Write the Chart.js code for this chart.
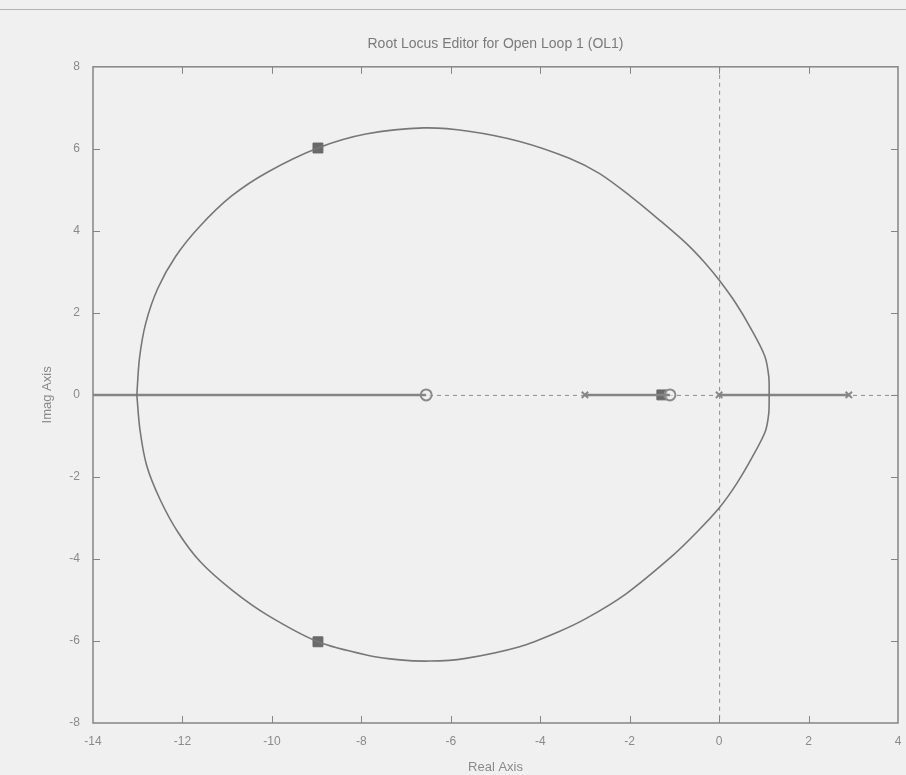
<!DOCTYPE html>
<html>
<head>
<meta charset="utf-8">
<title>Root Locus Editor for Open Loop 1 (OL1)</title>
<script src="https://cdn.jsdelivr.net/npm/chart.js@4.4.0/dist/chart.umd.min.js"></script>
<style>
  html, body { margin: 0; padding: 0; background: #f0f0f0; }
  canvas { display: block; }
</style>
</head>
<body>
<canvas id="locus" width="906" height="775"></canvas>
<script>
// complex branch of the locus, upper half (left crossing -> right crossing)
const upperRe = [-13.02, -12.96, -12.82, -12.55, -12.15, -11.62, -10.90, -10.10, -8.97, -7.90, -6.60, -5.60, -4.46, -3.35, -2.68, -2.00, -1.34, -0.74, -0.30, 0.00, 0.37, 0.72, 1.02, 1.11, 1.12];
const upperIm = [0, 0.90, 1.75, 2.60, 3.38, 4.10, 4.85, 5.43, 6.02, 6.36, 6.51, 6.43, 6.18, 5.77, 5.40, 4.86, 4.27, 3.70, 3.20, 2.80, 2.24, 1.60, 0.95, 0.45, 0];
// lower half
const lowerRe = [-13.02, -12.95, -12.80, -12.50, -12.10, -11.60, -10.87, -10.10, -8.97, -7.89, -7.14, -6.47, -5.70, -4.46, -3.60, -2.97, -2.08, -1.04, -0.50, 0.00, 0.40, 0.75, 1.03, 1.11, 1.12];
const lowerIm = [0, -0.85, -1.72, -2.55, -3.35, -4.07, -4.78, -5.37, -6.02, -6.34, -6.46, -6.49, -6.43, -6.14, -5.78, -5.45, -4.85, -3.92, -3.35, -2.76, -2.15, -1.50, -0.90, -0.45, 0];

// real-axis pieces of the locus [from, to]
const realSegments = [[-14, -6.55], [-3, -1.1], [0, 2.9]];

// open loop poles / zeros and the current closed loop poles
const polesRe = [-3, 0, 2.9];
const zerosRe = [-6.55, -1.1];
const clPolesRe = [-8.97, -8.97, -1.28];
const clPolesIm = [6.02, -6.02, 0];

const xTicks = [-14, -12, -10, -8, -6, -4, -2, 0, 2, 4];
const yTicks = [-8, -6, -4, -2, 0, 2, 4, 6, 8];

const gray = '#777';
const textGray = '#8a8a8a';
const font = 'Liberation Sans, Arial, sans-serif';

const pts = (re, im) => re.map((v, i) => ({ x: v, y: im[i] }));

const realData = [];
realSegments.forEach((s, i) => {
  if (i > 0) realData.push({ x: NaN, y: NaN });
  realData.push({ x: s[0], y: 0 }, { x: s[1], y: 0 });
});

// box, inward ticks and the dashed lines through the origin
const frame = {
  id: 'frame',
  beforeDatasetsDraw(chart) {
    const { ctx, chartArea: a, scales: { x, y } } = chart;
    const x0 = x.getPixelForValue(0), y0 = y.getPixelForValue(0);
    ctx.save();
    ctx.strokeStyle = '#8c8c8c';
    ctx.lineWidth = 1;
    ctx.setLineDash([4, 4]);
    ctx.beginPath();
    ctx.moveTo(x0 + 0.5, a.top); ctx.lineTo(x0 + 0.5, a.bottom);
    ctx.moveTo(a.left, y0 + 0.5); ctx.lineTo(a.right, y0 + 0.5);
    ctx.stroke();
    ctx.restore();
  },
  afterDraw(chart) {
    const { ctx, chartArea: a, scales: { x, y } } = chart;
    ctx.save();
    // thin rule at the top of the window
    ctx.strokeStyle = '#b4b4b4';
    ctx.lineWidth = 1;
    ctx.beginPath();
    ctx.moveTo(0, 9.5); ctx.lineTo(chart.width, 9.5);
    ctx.stroke();

    ctx.strokeStyle = '#858585';
    ctx.lineWidth = 1.5;
    ctx.strokeRect(a.left, a.top, a.right - a.left, a.bottom - a.top);
    ctx.lineWidth = 1;
    ctx.beginPath();
    const len = 7;
    xTicks.slice(1, -1).forEach(v => {
      const px = Math.round(x.getPixelForValue(v)) + 0.5;
      ctx.moveTo(px, a.bottom); ctx.lineTo(px, a.bottom - len);
      ctx.moveTo(px, a.top); ctx.lineTo(px, a.top + len);
    });
    yTicks.slice(1, -1).forEach(v => {
      const py = Math.round(y.getPixelForValue(v)) + 0.5;
      ctx.moveTo(a.left, py); ctx.lineTo(a.left + len, py);
      ctx.moveTo(a.right, py); ctx.lineTo(a.right - len, py);
    });
    ctx.stroke();
    ctx.restore();
  }
};

new Chart(document.getElementById('locus'), {
  type: 'scatter',
  data: {
    datasets: [
      {
        label: 'upper',
        data: pts(upperRe, upperIm),
        showLine: true,
        borderColor: gray,
        borderWidth: 1.6,
        tension: 0.3,
        pointRadius: 0
      },
      {
        label: 'lower',
        data: pts(lowerRe, lowerIm),
        showLine: true,
        borderColor: gray,
        borderWidth: 1.6,
        tension: 0.3,
        pointRadius: 0
      },
      {
        label: 'real axis',
        data: realData,
        showLine: true,
        spanGaps: false,
        borderColor: '#858585',
        borderWidth: 2.5,
        pointRadius: 0
      },
      {
        label: 'poles',
        data: polesRe.map(v => ({ x: v, y: 0 })),
        pointStyle: 'crossRot',
        pointRadius: 4.5,
        borderColor: '#8a8a8a',
        borderWidth: 2,
        backgroundColor: 'transparent'
      },
      {
        label: 'zeros',
        data: zerosRe.map(v => ({ x: v, y: 0 })),
        pointStyle: 'circle',
        pointRadius: 5.5,
        borderColor: '#8a8a8a',
        borderWidth: 2,
        backgroundColor: 'rgba(240,240,240,0.6)'
      },
      {
        label: 'closed loop',
        data: pts(clPolesRe, clPolesIm),
        pointStyle: 'rect',
        pointRadius: 7,
        borderColor: '#666',
        borderWidth: 1,
        backgroundColor: '#6a6a6a'
      }
    ]
  },
  options: {
    responsive: false,
    animation: false,
    layout: { padding: { left: 0, right: 6, top: 0, bottom: 0 } },
    plugins: {
      legend: { display: false },
      tooltip: { enabled: false },
      title: {
        display: true,
        fullSize: false,
        text: 'Root Locus Editor for Open Loop 1 (OL1)',
        color: '#7a7a7a',
        font: { family: font, size: 14, weight: 'normal' },
        padding: { top: 36, bottom: 14 }
      }
    },
    scales: {
      x: {
        type: 'linear',
        min: -14,
        max: 4,
        // fixed strip for labels + title, and no extra room for the end label
        afterFit(s) { s.height = 52; s.paddingLeft = 0; s.paddingRight = 0; },
        afterBuildTicks(s) { s.ticks = xTicks.map(v => ({ value: v })); },
        grid: { display: false, drawTicks: false },
        border: { display: false },
        ticks: { color: textGray, padding: 11, maxRotation: 0, font: { family: font, size: 12 } },
        title: {
          display: true,
          text: 'Real Axis',
          color: textGray,
          font: { family: font, size: 13 },
          padding: { top: 2, bottom: 0 }
        }
      },
      y: {
        type: 'linear',
        min: -8,
        max: 8,
        afterFit(s) { s.width = 93; },
        afterBuildTicks(s) { s.ticks = yTicks.map(v => ({ value: v })); },
        grid: { display: false, drawTicks: false },
        border: { display: false },
        ticks: { color: textGray, padding: 13, font: { family: font, size: 12 } },
        title: {
          display: true,
          text: 'Imag Axis',
          color: textGray,
          font: { family: font, size: 13 },
          padding: { top: 40, bottom: 0 }
        }
      }
    }
  },
  plugins: [frame]
});
</script>
</body>
</html>
